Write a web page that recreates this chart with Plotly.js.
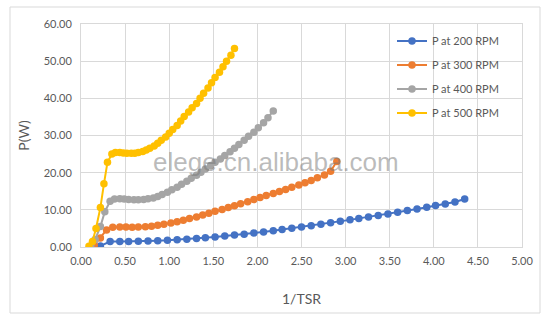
<!DOCTYPE html>
<html>
<head>
<meta charset="utf-8">
<script src="https://cdn.plot.ly/plotly-3.0.1.min.js"></script>
<style>html,body{margin:0;padding:0;background:#fff;}#chart{width:550px;height:323px;}</style>
</head>
<body>
<div id="chart"></div>
<script>
const seriesNames = ["P at 200 RPM", "P at 300 RPM", "P at 400 RPM", "P at 500 RPM"];

const x200 = [0.22,0.33,0.44,0.54,0.65,0.76,0.87,0.98,1.09,1.20,1.31,1.41,1.52,1.63,1.74,1.85,1.96,2.07,2.18,2.28,2.39,2.50,2.61,2.72,2.83,2.94,3.05,3.15,3.26,3.37,3.48,3.59,3.70,3.81,3.92,4.02,4.13,4.24,4.35];
const p200 = [0.3,1.45,1.5,1.5,1.55,1.6,1.7,1.8,1.95,2.1,2.3,2.5,2.7,2.95,3.2,3.45,3.75,4.05,4.35,4.7,5.05,5.4,5.75,6.1,6.5,6.9,7.3,7.7,8.1,8.5,8.9,9.35,9.8,10.25,10.7,11.15,11.6,12.1,12.9];

const x300 = [0.15,0.22,0.29,0.36,0.44,0.51,0.58,0.65,0.73,0.80,0.87,0.94,1.02,1.09,1.16,1.23,1.31,1.38,1.45,1.52,1.60,1.67,1.74,1.81,1.89,1.96,2.03,2.10,2.18,2.25,2.32,2.39,2.47,2.54,2.61,2.68,2.76,2.83,2.90];
const p300 = [0.5,2.4,4.6,5.3,5.4,5.35,5.3,5.35,5.45,5.6,5.85,6.1,6.45,6.8,7.2,7.65,8.1,8.6,9.1,9.6,10.1,10.6,11.1,11.65,12.2,12.75,13.3,13.85,14.4,14.95,15.5,16.1,16.7,17.3,17.9,18.6,19.4,20.4,23.0];

const x400 = [0.11,0.16,0.22,0.27,0.33,0.38,0.44,0.49,0.54,0.60,0.65,0.71,0.76,0.82,0.87,0.92,0.98,1.03,1.09,1.14,1.20,1.25,1.31,1.36,1.41,1.47,1.52,1.58,1.63,1.69,1.74,1.79,1.85,1.90,1.96,2.01,2.07,2.12,2.18];
const p400 = [0.3,2.0,5.5,9.5,12.3,12.9,13.0,12.9,12.8,12.7,12.7,12.8,13.0,13.2,13.6,14.1,14.7,15.4,16.1,16.9,17.7,18.5,19.3,20.1,21.0,21.9,22.8,23.7,24.6,25.6,26.6,27.6,28.7,29.8,30.9,32.1,33.4,34.8,36.6];

const x500 = [0.09,0.13,0.17,0.22,0.26,0.30,0.35,0.39,0.44,0.48,0.52,0.57,0.61,0.65,0.70,0.74,0.78,0.83,0.87,0.91,0.96,1.00,1.04,1.09,1.13,1.17,1.22,1.26,1.31,1.35,1.39,1.44,1.48,1.52,1.57,1.61,1.65,1.70,1.74];
const p500 = [0.2,1.5,5.0,10.6,17.0,22.8,25.0,25.4,25.4,25.3,25.2,25.2,25.2,25.4,25.7,26.1,26.6,27.2,27.9,28.7,29.6,30.6,31.6,32.7,33.9,35.1,36.3,37.5,38.6,40.0,41.4,42.8,44.2,45.6,47.0,48.5,50.0,51.6,53.4];

const xTickVals = [0,0.5,1,1.5,2,2.5,3,3.5,4,4.5,5];
const yTickVals = [0,10,20,30,40,50,60];
const xTitle = "1/TSR";
const yTitle = "P(W)";
const watermark = "elege.cn.alibaba.com";

const colors = ["#4472C4", "#ED7D31", "#A5A5A5", "#FFC000"];
const xs = [x200, x300, x400, x500];
const ps = [p200, p300, p400, p500];

const FONT = "Lato, 'Open Sans', sans-serif";
const traces = seriesNames.map((n, i) => ({
  type: "scatter",
  mode: "lines+markers",
  name: n,
  legendgroup: "g" + i,
  x: xs[i],
  y: ps[i],
  line: {color: colors[i], width: 2},
  marker: {color: colors[i], size: 7.5}
}));

const X0 = 81, X1 = 522, Y0 = 247, Y1 = 24;
const pw = X1 - X0, ph = Y0 - Y1;
const px = v => (v - X0) / pw;
const py = v => (Y0 - v) / ph;

const layout = {
  width: 550, height: 323,
  margin: {l: X0, r: 550 - X1, t: Y1, b: 323 - Y0, pad: 0},
  paper_bgcolor: "#ffffff",
  plot_bgcolor: "#ffffff",
  font: {family: FONT, color: "#595959", size: 11},
  showlegend: true,
  legend: {
    x: px(392), y: py(26.5), xanchor: "left", yanchor: "top",
    bgcolor: "rgba(255,255,255,0)",
    font: {size: 11, color: "#595959", family: FONT},
    tracegroupgap: 5
  },
  xaxis: {
    range: [0, 5], tickvals: xTickVals, tickformat: ".2f",
    showgrid: true, gridcolor: "#d9d9d9", gridwidth: 1,
    zeroline: false, showline: true, linecolor: "#d9d9d9", mirror: true,
    ticks: "", ticklabelstandoff: 4, tickfont: {size: 11, color: "#595959"},
    title: {text: xTitle, font: {size: 14, color: "#595959"}, standoff: 27},
    fixedrange: true
  },
  yaxis: {
    range: [0, 60], tickvals: yTickVals, tickformat: ".2f",
    showgrid: true, gridcolor: "#d9d9d9", gridwidth: 1,
    zeroline: false, showline: true, linecolor: "#d9d9d9", mirror: true,
    ticks: "", ticklabelstandoff: 6, tickfont: {size: 11, color: "#595959"},
    title: {text: yTitle, font: {size: 14, color: "#595959"}, standoff: 10},
    fixedrange: true
  },
  shapes: [{
    type: "rect", xref: "paper", yref: "paper",
    x0: px(10), x1: px(540), y0: py(313), y1: py(7),
    line: {color: "#d9d9d9", width: 1}, layer: "below"
  }],
  annotations: [{
    text: watermark, xref: "paper", yref: "paper",
    x: px(276), y: py(162), xanchor: "center", yanchor: "middle",
    showarrow: false,
    font: {family: "Liberation Sans, Arial, sans-serif", size: 26, color: "rgba(120,120,120,0.5)"}
  }]
};

Plotly.newPlot("chart", traces, layout, {displayModeBar: false, staticPlot: true});
</script>
</body>
</html>
